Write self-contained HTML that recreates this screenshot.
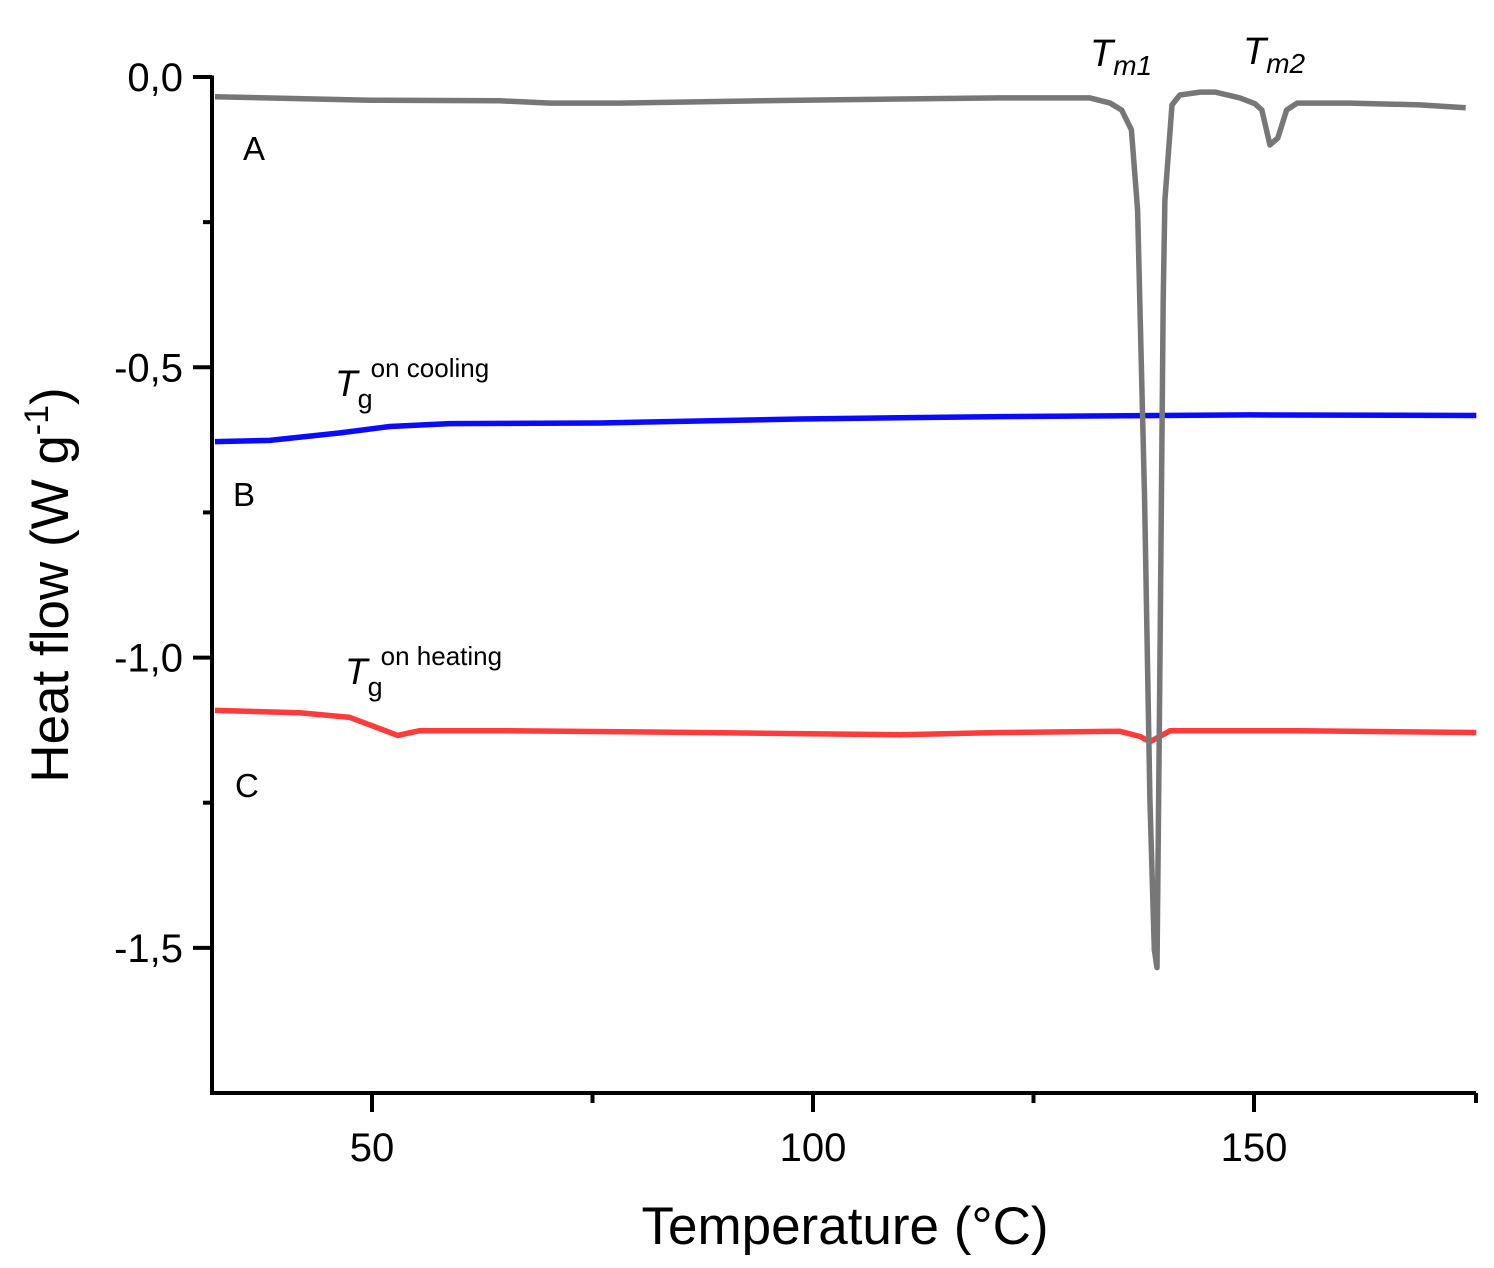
<!DOCTYPE html>
<html><head><meta charset="utf-8"><style>
body{margin:0;background:#fff}
svg{display:block;font-family:"Liberation Sans",Arial,sans-serif}
</style></head><body>
<svg id="chart" width="1494" height="1268" viewBox="0 0 1494 1268">
<g id="axes"></g><g id="series"></g>
<text x="243" y="160" font-size="33">A</text>
<text x="233" y="506" font-size="33">B</text>
<text x="235" y="797" font-size="33">C</text>
<text x="1090" y="66" font-size="38" font-style="italic">T<tspan font-size="28" dy="9">m1</tspan></text>
<text x="1243" y="64" font-size="38" font-style="italic">T<tspan font-size="28" dy="9">m2</tspan></text>
<text x="335" y="396" font-size="37"><tspan font-style="italic">T</tspan><tspan font-size="27" dy="12">g</tspan><tspan font-size="26" dy="-31" dx="-2">on cooling</tspan></text>
<text x="345" y="684" font-size="37"><tspan font-style="italic">T</tspan><tspan font-size="27" dy="12">g</tspan><tspan font-size="26" dy="-31" dx="-2">on heating</tspan></text>
<text x="845" y="1244" font-size="53" text-anchor="middle">Temperature (°C)</text>
<text transform="translate(68,585) rotate(-90)" font-size="53" text-anchor="middle">Heat flow (W g<tspan font-size="34" dy="-20">-1</tspan><tspan dy="20">)</tspan></text>
</svg>
<script>
const aT=[32.2,49.8,64.5,70.2,78.1,98.5,121.2,131.4,133.7,135.0,136.1,136.8,137.6,138.2,138.7,139.0,139.3,139.7,139.9,140.7,141.6,143.9,145.6,148.4,150.1,150.9,151.8,152.7,153.7,154.9,160.9,168.8,174.0];
const aV=[-0.034,-0.040,-0.041,-0.045,-0.045,-0.040,-0.036,-0.036,-0.045,-0.057,-0.091,-0.229,-0.728,-1.244,-1.503,-1.534,-1.072,-0.384,-0.212,-0.048,-0.031,-0.026,-0.026,-0.036,-0.046,-0.057,-0.117,-0.105,-0.057,-0.045,-0.045,-0.048,-0.053];
const bT=[32.2,38.4,46.4,52.0,58.8,75.9,98.5,121.2,149.5,175.2];
const bV=[-0.628,-0.626,-0.613,-0.602,-0.597,-0.596,-0.589,-0.585,-0.582,-0.583];
const cT=[32.2,41.8,47.5,50.3,52.9,55.4,64.5,87.2,109.9,121.2,134.8,137.1,138.2,139.3,140.5,155.2,175.2];
const cV=[-1.091,-1.095,-1.103,-1.119,-1.134,-1.126,-1.126,-1.129,-1.133,-1.129,-1.127,-1.136,-1.145,-1.136,-1.126,-1.126,-1.129];
const xTicks=[50,100,150];
const xMinor=[75,125];
const yTicks=[0,-0.5,-1.0,-1.5];
const yTickLabels=["0,0","-0,5","-1,0","-1,5"];
const yMinor=[-0.25,-0.75,-1.25];
const NS="http://www.w3.org/2000/svg";
const X0=212,X1=1476,Y0=77,Y1=1093;
const xMin=31.86,xMax=175.17,yMax=0,yMinV=-1.75;
const sx=t=>X0+(t-xMin)/(xMax-xMin)*(X1-X0);
const sy=v=>Y0+(yMax-v)/(yMax-yMinV)*(Y1-Y0);
function mk(tag,attrs,parent){const e=document.createElementNS(NS,tag);for(const k in attrs)e.setAttribute(k,attrs[k]);parent.appendChild(e);return e;}
const ax=document.getElementById('axes');
let e=mk('line',{x1:X0,y1:Y0-1.5,x2:X0,y2:Y1+2,stroke:'#000','stroke-width':4},ax);


e=mk('line',{x1:X0-2,y1:Y1,x2:X1,y2:Y1,stroke:'#000','stroke-width':4},ax);


xTicks.forEach(t=>{
 e=mk('line',{x1:sx(t),y1:Y1,x2:sx(t),y2:Y1+19,stroke:'#000','stroke-width':4},ax);
 
 
 e=mk('text',{x:sx(t),y:Y1+68,'font-size':40,'text-anchor':'middle'},ax);e.textContent=t;
 
 
});
xMinor.concat([xMax]).forEach(t=>{
 e=mk('line',{x1:sx(t),y1:Y1,x2:sx(t),y2:Y1+10,stroke:'#000','stroke-width':4},ax);
 
 
});
yTicks.forEach((v,i)=>{
 e=mk('line',{x1:X0-19,y1:sy(v),x2:X0,y2:sy(v),stroke:'#000','stroke-width':4},ax);
 
 
 e=mk('text',{x:X0-29,y:sy(v)+14,'font-size':40,'text-anchor':'end'},ax);e.textContent=yTickLabels[i];
 
 
});
yMinor.forEach(v=>{
 e=mk('line',{x1:X0-9,y1:sy(v),x2:X0,y2:sy(v),stroke:'#000','stroke-width':4},ax);
 
 
});
const sg=document.getElementById('series');
function line(T,V,color,name){
 const d=T.map((t,i)=>(i?'L':'M')+sx(t).toFixed(1)+','+sy(V[i]).toFixed(1)).join(' ');
 const p=mk('path',{d:d,fill:'none',stroke:color,'stroke-width':5.5,'stroke-linejoin':'round'},sg);
 
 
}
line(cT,cV,'#ff3a3a','series-c-heating');
line(bT,bV,'#0a0aff','series-b-cooling');
line(aT,aV,'#777777','series-a');
</script>
</body></html>
